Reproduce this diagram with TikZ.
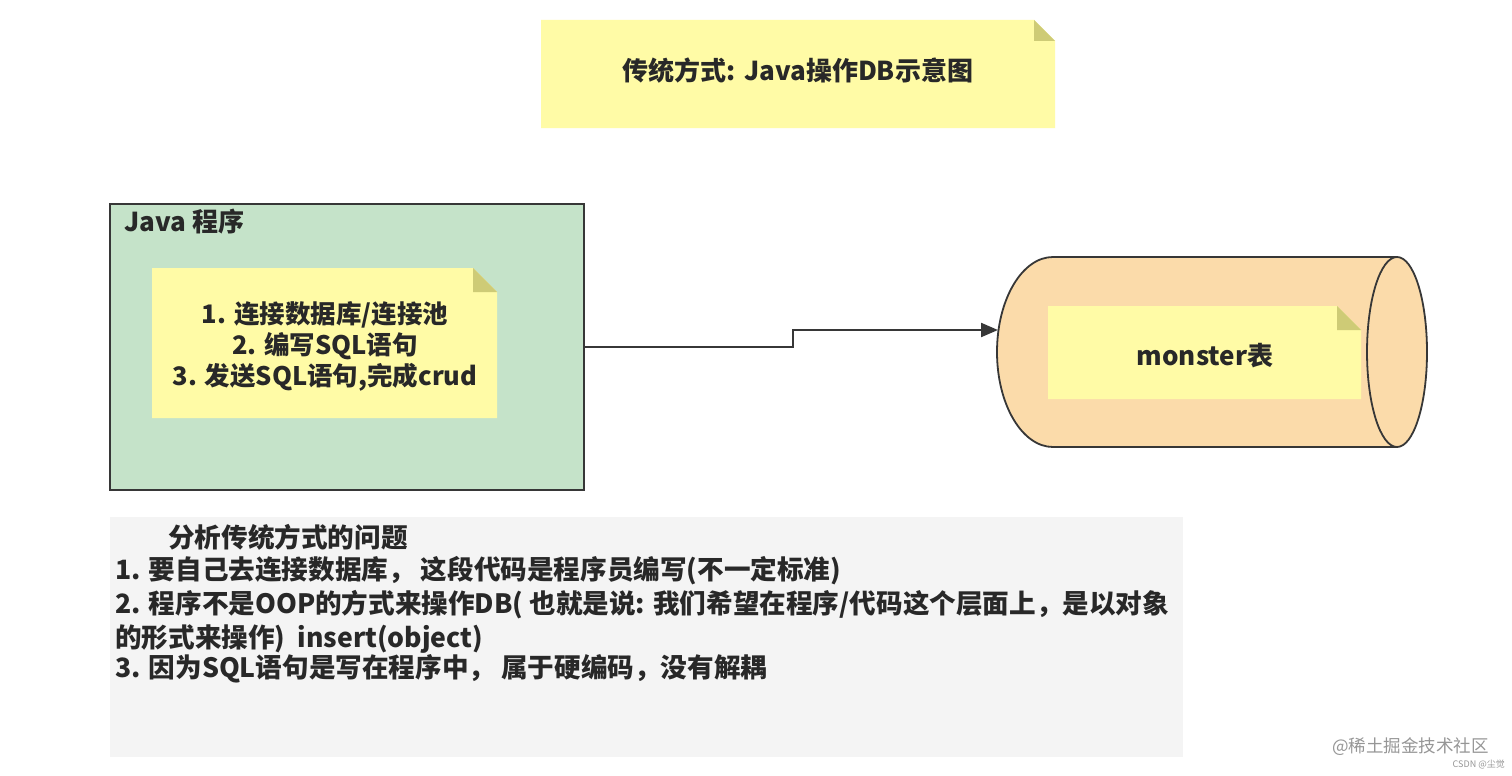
\documentclass[tikz,border=0pt]{standalone}
\usepackage{fontspec}
\setmainfont{Noto Sans CJK SC}
\usetikzlibrary{arrows.meta}
\definecolor{noteyel}{RGB}{255,251,166}
\definecolor{notefold}{RGB}{206,203,118}
\definecolor{javagreen}{RGB}{197,227,201}
\definecolor{border}{RGB}{55,55,55}
\definecolor{dborange}{RGB}{251,219,170}
\definecolor{graybox}{RGB}{244,244,244}
\definecolor{txt}{RGB}{40,40,40}
\definecolor{wmark}{RGB}{150,150,150}
\newcommand\stickynote[6]{%
  \fill[noteyel] (#2,#3) -- ({#4-#6},#3) -- (#4,{#3+#6}) -- (#4,#5) -- (#2,#5) -- cycle;
  \fill[notefold] ({#4-#6},#3) -- ({#4-#6},{#3+#6}) -- (#4,{#3+#6}) -- cycle;
  \node[inner sep=0, minimum width={(#4-#2)*1pt}, minimum height={(#5-#3)*1pt}] (#1) at ({(#2+#4)/2},{(#3+#5)/2}) {};
}
\begin{document}
\begin{tikzpicture}[x=1pt,y=-1pt,
  lbl/.style={text=txt, inner sep=0, font=\bfseries\fontsize{26}{30}\selectfont},
  anlbl/.style={text=txt, inner sep=0, font=\bfseries\fontsize{26.6}{30}\selectfont},
  steplbl/.style={text=txt, inner sep=0, font=\bfseries\fontsize{25.5}{30}\selectfont},
  biglbl/.style={text=txt, inner sep=0, font=\bfseries\fontsize{26}{30}\selectfont},
  conn/.style={draw=border, line width=2.2pt, -{Triangle[length=17pt,width=14pt]}}]
\useasboundingbox (0,0) rectangle (1512,776);
\fill[white] (0,0) rectangle (1512,776);

% title
\stickynote{title}{541}{20}{1055}{128}{21}
\node[biglbl, anchor=base] (titletext) at (798,81) {传统方式: Java操作DB示意图};

% Java program box
\node[draw=border, line width=2pt, fill=javagreen, inner sep=0,
      minimum width=474pt, minimum height=286pt] (java) at (347,347) {};
\node[lbl, anchor=base west] (javalbl) at (124,231) {Java 程序};
\stickynote{steps}{152}{268}{497}{418}{24}
\node[steplbl, anchor=base] (s1) at (325,323) {1. 连接数据库/连接池};
\node[steplbl, anchor=base] (s2) at (325,354) {2. 编写SQL语句};
\node[steplbl, anchor=base] (s3) at (325,385) {3. 发送SQL语句,完成crud};

% database cylinder
\filldraw[fill=dborange, draw=border, line width=1.8pt]
  (1053,257) -- (1397,257) -- (1397,447) -- (1053,447)
  .. controls (1022.1,447) and (997,404.5) .. (997,352)
  .. controls (997,299.5) and (1022.1,257) .. (1053,257) -- cycle;
\filldraw[fill=dborange, draw=border, line width=1.8pt] (1397,352) ellipse [x radius=30, y radius=95];
\coordinate (dbin) at (998,330);
\stickynote{monster}{1048}{306}{1361}{399}{24}
\node[biglbl, anchor=base] (montext) at (1205,365) {monster表};

% connector
\draw[conn] (java.east) -- ++(208,0) |- (dbin);

% analysis box
\node[fill=graybox, inner sep=0, minimum width=1073pt, minimum height=240pt] (gbox) at (646.5,637) {};
\node[anlbl, anchor=base west] (a0) at (168,547) {分析传统方式的问题};
\node[anlbl, anchor=base west] (a1) at (115,579) {1. 要自己去连接数据库， 这段代码是程序员编写(不一定标准)};
\node[anlbl, anchor=base west] (a2) at (115,613) {2. 程序不是OOP的方式来操作DB( 也就是说: 我们希望在程序/代码这个层面上，是以对象};
\node[anlbl, anchor=base west] (a3) at (115,647) {的形式来操作)\ \ insert(object)};
\node[anlbl, anchor=base west] (a4) at (115,677) {3. 因为SQL语句是写在程序中， 属于硬编码，没有解耦};

% watermark
\node[text=wmark, inner sep=0, anchor=base east, font=\fontsize{17.5}{21}\selectfont] (wm1) at (1489,752) {@稀土掘金技术社区};
\node[text=wmark, inner sep=0, anchor=base east, font=\fontsize{9}{11}\selectfont] (wm2) at (1505,767) {CSDN @尘觉};
\end{tikzpicture}
\end{document}
